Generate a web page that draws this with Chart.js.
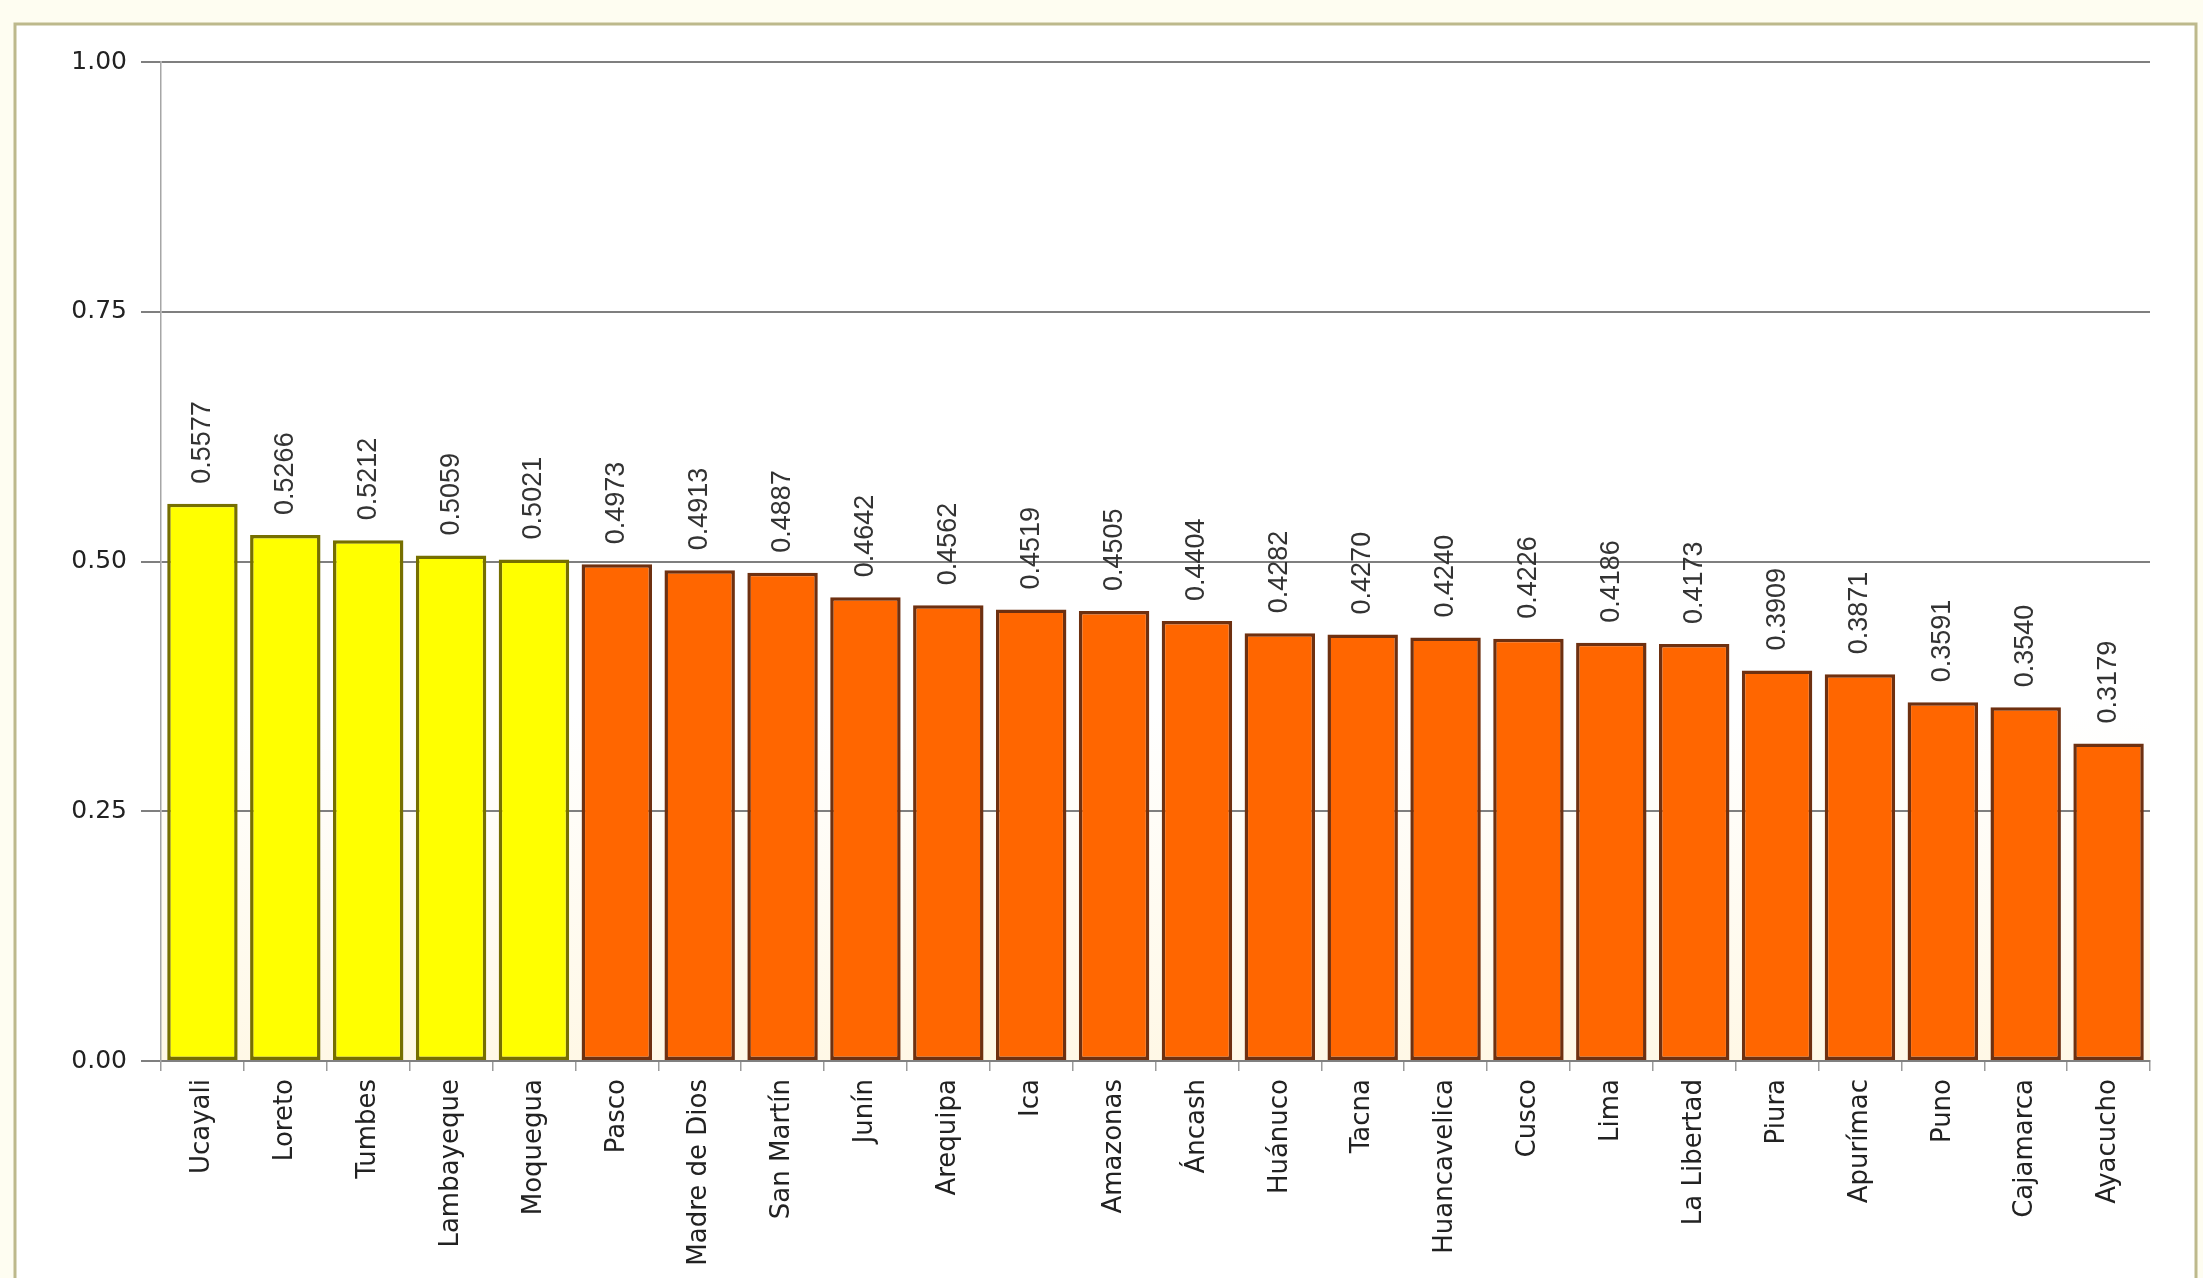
<!DOCTYPE html>
<html><head><meta charset="utf-8">
<script src="https://cdn.jsdelivr.net/npm/chart.js@4.4.1/dist/chart.umd.min.js"></script>
<style>html,body{margin:0;padding:0;background:#fff;overflow:hidden}</style>
</head><body>
<canvas id="c" width="2203" height="1278"></canvas>
<script>
const regions = ['Ucayali','Loreto','Tumbes','Lambayeque','Moquegua','Pasco','Madre de Dios','San Martín','Junín','Arequipa','Ica','Amazonas','Áncash','Huánuco','Tacna','Huancavelica','Cusco','Lima','La Libertad','Piura','Apurímac','Puno','Cajamarca','Ayacucho'];
const values = [0.5577,0.5266,0.5212,0.5059,0.5021,0.4973,0.4913,0.4887,0.4642,0.4562,0.4519,0.4505,0.4404,0.4282,0.4270,0.4240,0.4226,0.4186,0.4173,0.3909,0.3871,0.3591,0.3540,0.3179];
const yTicks = [0, 0.25, 0.5, 0.75, 1.0];
const threshold = 0.5;

const fill = values.map(v => v >= threshold ? '#ffff00' : '#ff6600');
const edge = values.map(v => v >= threshold ? '#766f00' : '#6e3010');

const framePlugin = {
  id: 'frame',
  beforeDraw(chart) {
    const ctx = chart.ctx, W = chart.width, H = chart.height;
    ctx.save();
    ctx.fillStyle = '#fefdf1';
    ctx.fillRect(0, 0, W, H);
    ctx.fillStyle = '#ffffff';
    ctx.fillRect(15, 24, 2181, H);
    ctx.strokeStyle = '#bdb98c';
    ctx.lineWidth = 3;
    ctx.strokeRect(15, 24, 2181, H + 10);
    const a = chart.chartArea;
    const g = ctx.createLinearGradient(0, a.top, 0, a.bottom);
    g.addColorStop(0, '#ffffff');
    g.addColorStop(0.65, '#ffffff');
    g.addColorStop(1, '#fff8e6');
    ctx.fillStyle = g;
    ctx.fillRect(a.left, a.top, a.right - a.left, a.bottom - a.top);
    ctx.restore();
  }
};

const labelPlugin = {
  id: 'valueLabels',
  afterDatasetsDraw(chart) {
    const ctx = chart.ctx;
    const meta = chart.getDatasetMeta(0);
    ctx.save();
    ctx.font = '27px "Liberation Sans", Arial, sans-serif';
    ctx.fillStyle = '#333333';
    ctx.textAlign = 'left';
    ctx.textBaseline = 'middle';
    meta.data.forEach((el, i) => {
      ctx.save();
      ctx.translate(el.x, el.y - 20);
      ctx.rotate(-Math.PI / 2);
      ctx.fillText(values[i].toFixed(4), 0, 0);
      ctx.restore();
    });
    ctx.restore();
  }
};

new Chart(document.getElementById('c'), {
  type: 'bar',
  data: {
    labels: regions,
    datasets: [{
      data: values,
      backgroundColor: fill,
      borderColor: edge,
      borderWidth: 3.5,
      borderSkipped: false,
      barPercentage: 0.85,
      categoryPercentage: 1.0
    }]
  },
  options: {
    responsive: false,
    devicePixelRatio: 1,
    animation: false,
    layout: { padding: { left: 30, top: 62, right: 53, bottom: 0 } },
    plugins: { legend: { display: false }, tooltip: { enabled: false } },
    scales: {
      x: {
        afterFit(s) { s.height = 217; },
        grid: { display: true, drawOnChartArea: false, drawTicks: true, tickLength: 10, color: '#9a9a9a', lineWidth: 1.5, offset: true },
        border: { display: true, color: '#808080', width: 2 },
        ticks: {
          minRotation: 90, maxRotation: 90, autoSkip: false, padding: 8,
          color: '#222222',
          font: { family: '"DejaVu Sans", Verdana, sans-serif', size: 26 }
        }
      },
      y: {
        min: 0, max: 1,
        afterFit(s) { s.width = 131; },
        afterBuildTicks(s) { s.ticks = yTicks.map(v => ({ value: v })); },
        grid: { color: '#7f7f7f', lineWidth: 2, tickLength: 20, drawTicks: true },
        border: { display: true, color: '#a6a6a6', width: 1.5 },
        ticks: {
          padding: 14,
          color: '#222222',
          font: { family: '"DejaVu Sans", Verdana, sans-serif', size: 25 },
          callback: v => Number(v).toFixed(2)
        }
      }
    }
  },
  plugins: [framePlugin, labelPlugin]
});
</script>
</body></html>
